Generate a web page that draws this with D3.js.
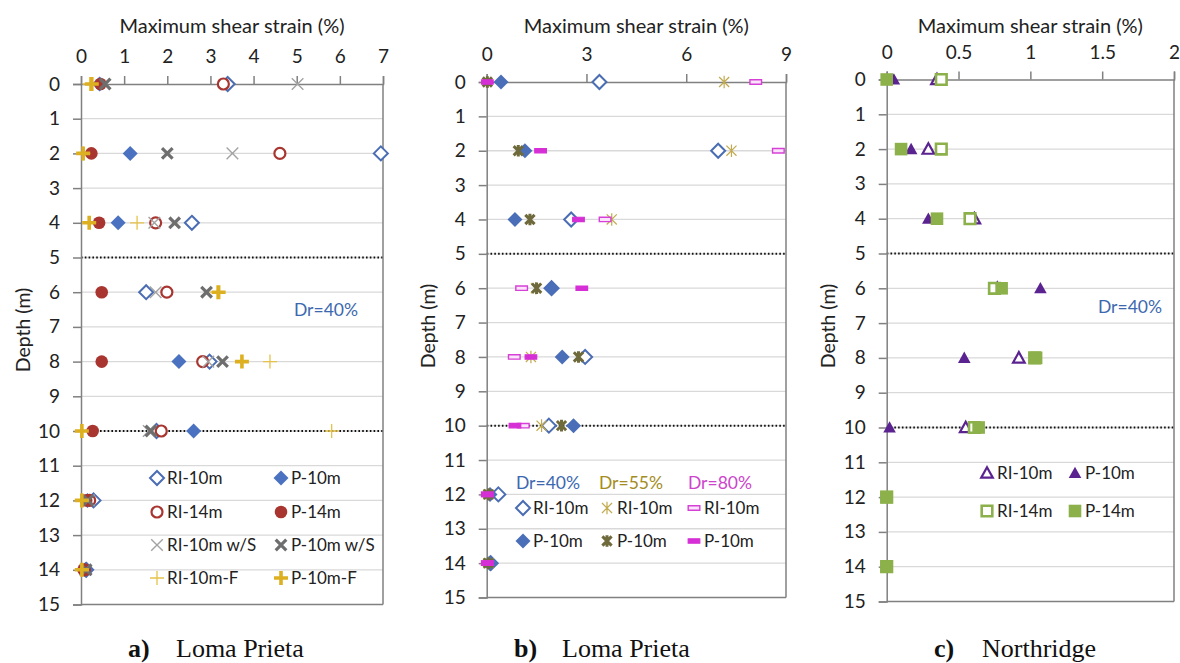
<!DOCTYPE html>
<html>
<head>
<meta charset="utf-8">
<script src="https://cdn.jsdelivr.net/npm/d3@7/dist/d3.min.js"></script>
<style>
  html, body { margin: 0; padding: 0; background: #fff; }
  svg { display: block; }
  .tick text { font-family: Lato, "Open Sans", sans-serif; fill: #222; }
</style>
</head>
<body>
<svg id="chart" width="1180" height="663"></svg>
<script>
// Depths at which the strain profiles were recorded (m)
const depthLevels = [0, 2, 4, 6, 8, 10, 12, 14];
const depthTicks = d3.range(0, 16);
const dottedDepths = [5, 10];

// Tick labels of the strain axes (%)
const ticksA = [0, 1, 2, 3, 4, 5, 6, 7];
const ticksB = [0, 3, 6, 9];
const ticksC = [0, 0.5, 1, 1.5, 2];

// a) Loma Prieta, Dr = 40 %
const aRI10   = [3.40, 6.95, 2.57, 1.51, 2.98, 1.75, 0.29, 0.12];
const aP10    = [0.43, 1.14, 0.86, null, 2.27, 2.61, 0.15, 0.10];
const aRI14   = [3.30, 4.61, 1.73, 1.99, 2.82, 1.86, 0.20, 0.08];
const aP14    = [0.45, 0.24, 0.42, 0.48, 0.48, 0.27, 0.12, 0.06];
const aRI10S  = [5.02, 3.51, 1.70, 1.73, 2.95, 1.57, 0.18, 0.10];
const aP10S   = [0.56, 2.00, 2.17, 2.91, 3.28, 1.62, 0.16, 0.12];
const aRI10F  = [0.20, 0.05, 1.30, 3.15, 4.38, 5.81, 0.02, 0.02];
const aP10F   = [0.25, 0.05, 0.19, 3.19, 3.73, 0.02, 0.02, 0.02];

// b) Loma Prieta, three relative densities
const bRI40 = [3.39, 6.96, 2.54, 1.95, 2.96, 1.87, 0.35, 0.12];
const bP40  = [0.43, 1.15, 0.85, 1.95, 2.27, 2.61, 0.10, 0.08];
const bRI55 = [7.14, 7.36, 3.76, 1.48, 1.33, 1.65, 0.05, 0.05];
const bP55  = [0.02, 0.95, 1.30, 1.50, 2.76, 2.25, 0.05, 0.05];
const bRI80 = [8.09, 8.77, 3.56, 1.05, 0.83, 1.10, 0.02, 0.02];
const bP80  = [0.02, 1.62, 2.76, 2.86, 1.33, 0.85, 0.02, 0.02];

// c) Northridge, Dr = 40 %
const cRI10 = [0.35, 0.29, 0.61, 0.77, 0.92, 0.55, null, null];
const cP10  = [0.05, 0.17, 0.29, 1.07, 0.54, 0.02, null, null];
const cRI14 = [0.38, 0.38, 0.58, 0.75, 1.03, 0.61, 0.00, 0.00];
const cP14  = [0.00, 0.10, 0.35, 0.80, 1.04, 0.64, 0.00, 0.00];

const svg = d3.select("#chart");
const SANS = "Lato, 'Open Sans', sans-serif";
const SERIF = "'Liberation Serif', 'Times New Roman', serif";

// ---- marker shapes (half-size s) ----
const shapes = {
  diamond: s => `M0,${-s}L${s},0L0,${s}L${-s},0Z`,
  circle: s => `M${s},0A${s},${s} 0 1,1 ${-s},0A${s},${s} 0 1,1 ${s},0Z`,
  cross: s => `M${-s},${-s}L${s},${s}M${s},${-s}L${-s},${s}`,
  plus: s => `M${-s},0L${s},0M0,${-s}L0,${s}`,
  asterisk: s => { const d = s * 0.8; return `M0,${-s}L0,${s}M${-d},${-d}L${d},${d}M${d},${-d}L${-d},${d}`; },
  dash: s => { const h = s * 0.38; return `M${-s},${-h}L${s},${-h}L${s},${h}L${-s},${h}Z`; },
  triangle: s => `M0,${-s}L${s},${s * 0.8}L${-s},${s * 0.8}Z`,
  square: s => `M${-s},${-s}L${s},${-s}L${s},${s}L${-s},${s}Z`
};

const styles = {
  RI10a:  { shape: "diamond", s: 7, fill: "#fff", stroke: "#4a6db3", sw: 2 },
  P10a:   { shape: "diamond", s: 7.5, fill: "#4a72c0", stroke: "none", sw: 0 },
  RI14a:  { shape: "circle", s: 5.5, fill: "#fff", stroke: "#a8352f", sw: 2.2 },
  P14a:   { shape: "circle", s: 6.3, fill: "#a8352f", stroke: "none", sw: 0 },
  RI10S:  { shape: "cross", s: 5.8, fill: "none", stroke: "#a3a3a3", sw: 1.4 },
  P10S:   { shape: "cross", s: 5.3, fill: "none", stroke: "#6e6e6e", sw: 3.2 },
  RI10F:  { shape: "plus", s: 7, fill: "none", stroke: "#e7c24a", sw: 1.3 },
  P10F:   { shape: "plus", s: 7, fill: "none", stroke: "#ddb021", sw: 3.6 },
  RI40:   { shape: "diamond", s: 7, fill: "#fff", stroke: "#4a6db3", sw: 2 },
  P40:    { shape: "diamond", s: 7.5, fill: "#4a6fb8", stroke: "none", sw: 0 },
  RI55:   { shape: "asterisk", s: 6.3, fill: "none", stroke: "#c2aa4e", sw: 1.2 },
  P55:    { shape: "asterisk", s: 5.8, fill: "none", stroke: "#6f6a3c", sw: 3 },
  RI80:   { shape: "dash", s: 5.8, fill: "#fbe3fb", stroke: "#d640d6", sw: 1.4 },
  P80:    { shape: "dash", s: 5.8, fill: "#d62fd6", stroke: "#d62fd6", sw: 1.2 },
  RI10c:  { shape: "triangle", s: 5.8, fill: "#fff", stroke: "#5a2390", sw: 2.2 },
  P10c:   { shape: "triangle", s: 6.3, fill: "#5a2390", stroke: "none", sw: 0 },
  RI14c:  { shape: "square", s: 5.3, fill: "#fff", stroke: "#8cb04a", sw: 2.6 },
  P14c:   { shape: "square", s: 6.3, fill: "#8cb04a", stroke: "none", sw: 0 }
};

function marker(g, st, x, y) {
  g.append("path")
    .attr("d", shapes[st.shape](st.s))
    .attr("transform", `translate(${x},${y})`)
    .attr("fill", st.fill)
    .attr("stroke", st.stroke)
    .attr("stroke-width", st.sw)
    .attr("stroke-linecap", "butt")
    .attr("stroke-linejoin", "miter");
}

// ---- one strain-vs-depth panel ----
function panel(cfg) {
  const x = d3.scaleLinear().domain(cfg.xDomain).range([cfg.left, cfg.right]);
  const y = d3.scaleLinear().domain([0, 15]).range([cfg.top, cfg.bottom]);
  const g = svg.append("g");

  // horizontal grid lines at every metre
  g.append("g").selectAll("line")
    .data(depthTicks.filter(d => d > 0 && d < 15))
    .join("line")
    .attr("x1", cfg.left).attr("x2", cfg.right)
    .attr("y1", d => y(d)).attr("y2", d => y(d))
    .attr("stroke", "#d9d9d9").attr("stroke-width", 1.3);

  // dotted reference lines at 5 m and 10 m
  g.append("g").selectAll("line")
    .data(dottedDepths)
    .join("line")
    .attr("x1", cfg.left).attr("x2", cfg.right)
    .attr("y1", d => y(d)).attr("y2", d => y(d))
    .attr("stroke", "#111").attr("stroke-width", 2)
    .attr("stroke-dasharray", "1.6 2.2");

  // right and bottom frame
  g.append("line").attr("x1", cfg.right).attr("x2", cfg.right)
    .attr("y1", y(0)).attr("y2", y(15)).attr("stroke", "#808080").attr("stroke-width", 1.5);
  g.append("line").attr("x1", cfg.left).attr("x2", cfg.right)
    .attr("y1", y(15)).attr("y2", y(15)).attr("stroke", "#808080").attr("stroke-width", 1.5);

  // strain axis along the top
  const xa = g.append("g").attr("transform", `translate(0,${y(0)})`)
    .call(d3.axisTop(x).tickValues(cfg.xTicks).tickFormat(d3.format("~g")).tickSize(8).tickPadding(13));
  // depth axis on the left
  const ya = g.append("g").attr("transform", `translate(${cfg.left},0)`)
    .call(d3.axisLeft(y).tickValues(depthTicks).tickSize(8).tickPadding(13));
  [xa, ya].forEach(a => {
    a.select(".domain").attr("stroke", "#808080").attr("stroke-width", 1.5);
    a.selectAll(".tick line").attr("stroke", "#808080").attr("stroke-width", 1.5);
    a.selectAll(".tick text").attr("font-size", 19).attr("font-family", SANS).attr("fill", "#222");
  });
  // top ticks sit just outside the frame line
  xa.selectAll(".tick line").attr("y1", 0);

  // axis titles
  g.append("text").attr("x", (cfg.left + cfg.right) / 2).attr("y", 33)
    .attr("text-anchor", "middle").attr("font-family", SANS).attr("font-size", 20)
    .attr("fill", "#222").text("Maximum shear strain (%)");
  g.append("text")
    .attr("transform", `translate(${cfg.left - 59},${cfg.depthTitleY}) rotate(-90)`)
    .attr("text-anchor", "middle").attr("dominant-baseline", "central")
    .attr("font-family", SANS).attr("font-size", 19.5).attr("fill", "#222").text("Depth (m)");

  // data markers, series drawn in legend order
  const mg = g.append("g");
  cfg.series.forEach(sr => {
    depthLevels.forEach((d, i) => {
      const v = sr.values[i];
      if (v == null) return;
      marker(mg, styles[sr.style], x(v), y(d));
    });
  });

  // legend entries
  const lg = g.append("g");
  cfg.legend.forEach(it => {
    marker(lg, styles[it.style], it.x, it.y);
    lg.append("text").attr("x", it.x + 10).attr("y", it.y).attr("dy", "0.36em")
      .attr("font-family", SANS).attr("font-size", 17).attr("fill", "#222").text(it.label);
  });
  (cfg.notes || []).forEach(n => {
    g.append("text").attr("x", n.x).attr("y", n.y).attr("text-anchor", "middle")
      .attr("font-family", SANS).attr("font-size", 17.5).attr("fill", n.color).text(n.text);
  });

  // caption underneath
  const cap = svg.append("text").attr("y", 657).attr("font-family", SERIF).attr("font-size", 26).attr("fill", "#111");
  cap.append("tspan").attr("x", cfg.capX).attr("font-weight", "bold").text(cfg.capTag);
  cap.append("tspan").attr("x", cfg.capX + 48).text(cfg.capText);
}

panel({
  left: 81, right: 383, top: 84, bottom: 604.5, xDomain: [0, 7], xTicks: ticksA, depthTitleY: 330,
  series: [
    { style: "RI10a", values: aRI10 }, { style: "P10a", values: aP10 },
    { style: "RI14a", values: aRI14 }, { style: "P14a", values: aP14 },
    { style: "RI10S", values: aRI10S }, { style: "P10S", values: aP10S },
    { style: "RI10F", values: aRI10F }, { style: "P10F", values: aP10F }
  ],
  legend: [
    { style: "RI10a", label: "RI-10m", x: 157, y: 478 }, { style: "P10a", label: "P-10m", x: 281, y: 478 },
    { style: "RI14a", label: "RI-14m", x: 157, y: 512 }, { style: "P14a", label: "P-14m", x: 281, y: 512 },
    { style: "RI10S", label: "RI-10m w/S", x: 157, y: 545 }, { style: "P10S", label: "P-10m w/S", x: 281, y: 545 },
    { style: "RI10F", label: "RI-10m-F", x: 157, y: 578 }, { style: "P10F", label: "P-10m-F", x: 281, y: 578 }
  ],
  notes: [{ text: "Dr=40%", x: 326, y: 316, color: "#3c68b0" }],
  capX: 128, capTag: "a)", capText: "Loma Prieta"
});

panel({
  left: 486.7, right: 786, top: 82, bottom: 597.5, xDomain: [0, 9], xTicks: ticksB, depthTitleY: 326,
  series: [
    { style: "RI40", values: bRI40 }, { style: "P40", values: bP40 },
    { style: "RI55", values: bRI55 }, { style: "P55", values: bP55 },
    { style: "RI80", values: bRI80 }, { style: "P80", values: bP80 }
  ],
  legend: [
    { style: "RI40", label: "RI-10m", x: 523, y: 508 }, { style: "RI55", label: "RI-10m", x: 607, y: 508 },
    { style: "RI80", label: "RI-10m", x: 694, y: 508 },
    { style: "P40", label: "P-10m", x: 523, y: 541 }, { style: "P55", label: "P-10m", x: 607, y: 541 },
    { style: "P80", label: "P-10m", x: 694, y: 541 }
  ],
  notes: [
    { text: "Dr=40%", x: 548, y: 489, color: "#3c68b0" },
    { text: "Dr=55%", x: 631, y: 489, color: "#a48c22" },
    { text: "Dr=80%", x: 720, y: 489, color: "#cc44cc" }
  ],
  capX: 514, capTag: "b)", capText: "Loma Prieta"
});

panel({
  left: 886.7, right: 1174, top: 79.5, bottom: 601.5, xDomain: [0, 2], xTicks: ticksC, depthTitleY: 326,
  series: [
    { style: "RI10c", values: cRI10 }, { style: "P10c", values: cP10 },
    { style: "RI14c", values: cRI14 }, { style: "P14c", values: cP14 }
  ],
  legend: [
    { style: "RI10c", label: "RI-10m", x: 987, y: 473 }, { style: "P10c", label: "P-10m", x: 1075, y: 473 },
    { style: "RI14c", label: "RI-14m", x: 987, y: 511 }, { style: "P14c", label: "P-14m", x: 1075, y: 511 }
  ],
  notes: [{ text: "Dr=40%", x: 1130, y: 313, color: "#3c68b0" }],
  capX: 934, capTag: "c)", capText: "Northridge"
});
</script>
</body>
</html>
